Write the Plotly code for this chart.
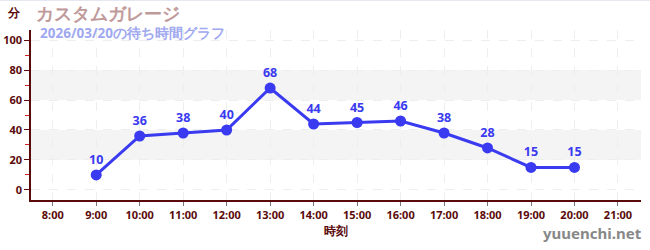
import plotly.graph_objects as go

times = ["9:00", "10:00", "11:00", "12:00", "13:00", "14:00", "15:00", "16:00", "17:00", "18:00", "19:00", "20:00"]
waits = [10, 36, 38, 40, 68, 44, 45, 46, 38, 28, 15, 15]
tick_labels = ["8:00", "9:00", "10:00", "11:00", "12:00", "13:00", "14:00", "15:00", "16:00", "17:00", "18:00", "19:00", "20:00", "21:00"]
y_ticks = [0, 20, 40, 60, 80, 100]
bands = [(20, 40), (60, 80)]

def hnum(s):
    h, m = s.split(":")
    return int(h) + int(m) / 60

xs = [hnum(t) for t in times]
tick_vals = [hnum(t) for t in tick_labels]

axis_col = "#5a0a0a"
fig = go.Figure()
for lo, hi in bands:
    fig.add_shape(type="rect", xref="paper", x0=0, x1=1, yref="y", y0=lo, y1=hi,
                  fillcolor="#f4f4f4", line_width=0, layer="below")

fig.add_trace(go.Scatter(
    x=xs, y=waits, mode="lines+markers+text",
    line=dict(color="#3a3af0", width=3),
    marker=dict(color="#3a3af0", size=11),
    text=[str(v) for v in waits], textposition="top center",
    textfont=dict(color="#3a3af0", size=12.5, family="Noto Sans, sans-serif", weight="bold"),
    cliponaxis=False, hoverinfo="skip"))

fig.update_layout(
    width=650, height=250, margin=dict(l=31, r=9, t=30, b=50, autoexpand=False),
    paper_bgcolor="white", plot_bgcolor="white", showlegend=False,
    font=dict(family="Noto Sans, sans-serif", color=axis_col),
    xaxis=dict(range=[7.5, 21.53], tickvals=tick_vals, ticktext=tick_labels, automargin=False,
               showgrid=True, gridcolor="#eeeeee", griddash="dash", gridwidth=1,
               showline=True, linecolor=axis_col, linewidth=1.5,
               ticks="outside", ticklen=4, tickcolor="#777777",
               tickfont=dict(size=11, color=axis_col, weight="bold"),
               title=dict(text="時刻", font=dict(size=12, color=axis_col, weight="bold"), standoff=6),
               zeroline=False),
    yaxis=dict(range=[-6.7, 106.7], tickvals=y_ticks, automargin=False,
               showgrid=True, gridcolor="#eeeeee", griddash="dash", gridwidth=1,
               showline=True, linecolor=axis_col, linewidth=1.5,
               ticks="outside", ticklen=5, tickcolor=axis_col,
               tickfont=dict(size=11, color=axis_col, weight="bold"),
               minor=dict(dtick=10, tick0=0, ticks="outside", ticklen=4, tickcolor="#d02020", showgrid=False),
               zeroline=False),
)

fig.add_annotation(xref="paper", yref="paper", x=-0.028, y=1.0, yanchor="bottom", xanchor="center",
                   text="分", showarrow=False, yshift=7,
                   font=dict(size=12, color=axis_col, weight="bold"))
fig.add_annotation(xref="paper", yref="paper", x=0.005, y=1.0, xanchor="left", yanchor="bottom",
                   text="カスタムガレージ", showarrow=False, yshift=3,
                   font=dict(size=18, color="#c09a9a", weight="bold"))
fig.add_annotation(xref="paper", yref="paper", x=0.011, y=1.0, xanchor="left", yanchor="top",
                   text="2026/03/20の待ち時間グラフ", showarrow=False, yshift=8,
                   font=dict(size=13.5, color="#a0a8f0", weight="bold"))
fig.add_annotation(xref="paper", yref="paper", x=1.005, y=0, xanchor="right", yanchor="top",
                   text="yuuenchi.net", showarrow=False, yshift=-21,
                   font=dict(size=15, color="#888888", weight="bold"))
fig.add_shape(type="line", xref="paper", yref="paper", x0=-0.06, x1=1.02, y0=1.175, y1=1.175,
              line=dict(color="#dde0f0", width=1))

fig.write_html("out.html")
